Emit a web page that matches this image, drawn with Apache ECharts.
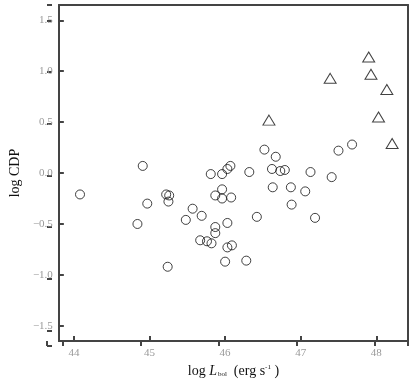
<!DOCTYPE html>
<html>
<head>
<meta charset="utf-8">
<script src="https://cdn.jsdelivr.net/npm/echarts@6.0.0/dist/echarts.min.js"></script>
<style>
  html, body { margin: 0; padding: 0; background: #fff; }
  #chart { width: 415px; height: 383px; }
</style>
</head>
<body>
<div id="chart"></div>
<script>
// circles: log Lbol vs log CDP
const circleX = [44.08, 44.84, 44.91, 44.97, 45.22, 45.26, 45.25, 45.24, 45.48, 45.57,
                 45.69, 45.67, 45.76, 45.82, 45.81, 45.87, 45.87, 45.87, 45.96, 45.96,
                 45.96, 46.03, 46.07, 46.08, 46.03, 46.03, 46.09, 46.00, 46.28, 46.32,
                 46.42, 46.52, 46.62, 46.63, 46.67, 46.73, 46.79, 46.87, 46.88, 47.06,
                 47.13, 47.19, 47.41, 47.50, 47.68];
const circleY = [-0.21, -0.50, 0.07, -0.30, -0.21, -0.22, -0.28, -0.92, -0.46, -0.35,
                 -0.42, -0.66, -0.67, -0.69, -0.01, -0.22, -0.53, -0.59, -0.01, -0.16,
                 -0.25, 0.04, 0.07, -0.24, -0.49, -0.73, -0.71, -0.87, -0.86, 0.01,
                 -0.43, 0.23, 0.04, -0.14, 0.16, 0.02, 0.03, -0.14, -0.31, -0.18,
                 0.01, -0.44, -0.04, 0.22, 0.28];
// triangles
const triX = [46.58, 47.39, 47.90, 47.93, 48.03, 48.14, 48.21];
const triY = [0.52, 0.93, 1.14, 0.97, 0.55, 0.82, 0.29];

const xTicks = [44, 45, 46, 47, 48];
const yTicks = [-1.5, -1.0, -0.5, 0.0, 0.5, 1.0, 1.5];
const xRange = [43.8, 48.42];
const yRange = [-1.65, 1.65];

const serif = '"Liberation Serif", "DejaVu Serif", serif';
const frame = '#444';

const chart = echarts.init(document.getElementById('chart'));

const pairs = (xs, ys) => xs.map((x, i) => [x, ys[i]]);

// helper axis: draws the top / right edge, and its zero sits on the
// bottom / left edge so the main axes stay on the border
const edgeAxis = (pos) => ({
  type: 'value',
  position: pos,
  min: 0,
  max: 1,
  axisLine: { show: true, onZero: false, lineStyle: { color: frame, width: 2 } },
  axisTick: { show: false },
  axisLabel: { show: false },
  splitLine: { show: false }
});

// hidden axis for the thin tick strips
const blankAxis = (grid) => ({
  type: 'value', gridIndex: grid, min: 0, max: 1,
  axisLine: { show: false }, axisTick: { show: false },
  axisLabel: { show: false }, splitLine: { show: false }
});

// axis whose split lines are the short inward tick marks
const tickAxis = (grid, range) => ({
  type: 'value', gridIndex: grid, min: range[0], max: range[1], splitNumber: 5,
  axisLine: { show: false }, axisTick: { show: false }, axisLabel: { show: false },
  splitLine: { show: true, lineStyle: { color: frame, width: 2 } }
});

chart.setOption({
  animation: false,
  grid: [
    { left: 47, right: 7, top: 5, bottom: 37 },
    { left: 47, right: 7, bottom: 37, height: 5 },   // bottom tick strip
    { left: 47, width: 5, top: 5, bottom: 37 }        // left tick strip
  ],
  xAxis: [{
    type: 'value',
    position: 'bottom',
    min: xRange[0],
    max: xRange[1],
    name: '{n|log }{i|L}{s|bol}{n|  (erg s}{p|-1}{n| )}',
    nameLocation: 'middle',
    nameGap: 13,
    nameTextStyle: {
      rich: {
        n: { fontFamily: serif, fontSize: 14, color: '#111' },
        i: { fontFamily: serif, fontSize: 14, fontStyle: 'italic', color: '#111' },
        s: { fontFamily: serif, fontSize: 7, color: '#111', padding: [7, 0, 0, 1] },
        p: { fontFamily: serif, fontSize: 7, color: '#111', padding: [0, 0, 7, 0] }
      }
    },
    splitLine: { show: false },
    axisLine: { show: true, onZeroAxisIndex: 1, lineStyle: { color: frame, width: 2 } },
    axisTick: {
      inside: true, length: 5, customValues: xTicks,
      lineStyle: { color: frame, width: 2 }
    },
    axisLabel: {
      customValues: xTicks,
      margin: 7,
      fontFamily: serif, fontSize: 11, color: '#999'
    }
  }, edgeAxis('top'), tickAxis(1, xRange), blankAxis(2)],
  yAxis: [{
    type: 'value',
    position: 'left',
    min: yRange[0],
    max: yRange[1],
    name: 'log CDP',
    nameLocation: 'middle',
    nameRotate: 90,
    nameGap: 22,
    nameTextStyle: { fontFamily: serif, fontSize: 14, color: '#111' },
    splitLine: { show: false },
    axisLine: { show: true, onZeroAxisIndex: 1, lineStyle: { color: frame, width: 2 } },
    axisTick: {
      inside: true, length: 5, customValues: yTicks,
      lineStyle: { color: frame, width: 2 }
    },
    axisLabel: {
      customValues: yTicks,
      margin: 6,
      fontFamily: serif, fontSize: 11, color: '#999',
      formatter: v => (v < 0 ? '\u2212' : '') + Math.abs(v).toFixed(1)
    }
  }, edgeAxis('right'), blankAxis(1), tickAxis(2, yRange)],
  series: [
    {
      name: 'circle',
      type: 'scatter',
      symbol: 'circle',
      symbolSize: 9,
      z: 5,
      data: pairs(circleX, circleY),
      itemStyle: { color: 'rgba(0,0,0,0)', borderColor: '#111', borderWidth: 1 }
    },
    {
      name: 'triangle',
      type: 'scatter',
      symbol: 'triangle',
      symbolSize: [12, 10],
      z: 5,
      data: pairs(triX, triY),
      itemStyle: { color: 'rgba(0,0,0,0)', borderColor: '#111', borderWidth: 1 }
    }
  ]
});
</script>
</body>
</html>
